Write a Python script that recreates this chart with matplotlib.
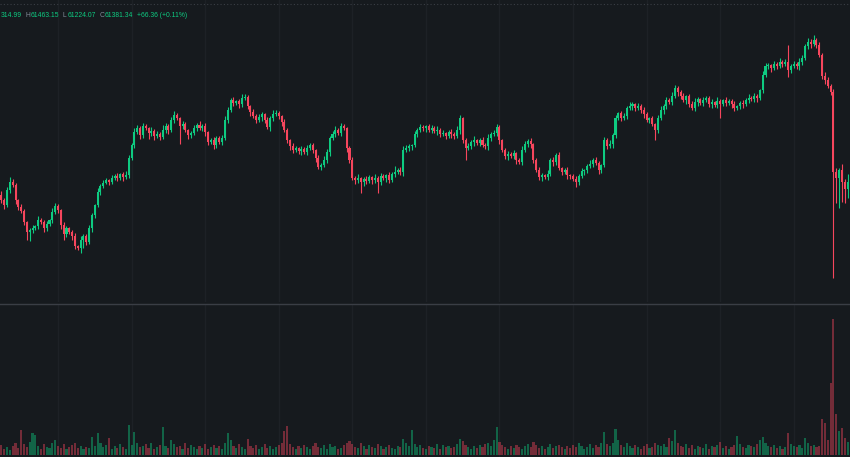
import matplotlib
matplotlib.use('Agg')
import matplotlib.pyplot as plt
from matplotlib.lines import Line2D

# ---------------- data ----------------
first_open = 61250
close = [
    61200, 61150, 61300, 61380, 61350, 61200, 61130, 61090, 60980, 60880,
    60900, 60920, 60940, 61000, 60980, 60920, 60960, 61000, 61080, 61140,
    61100, 60950, 60860, 60920, 60880, 60840, 60740, 60720, 60800, 60840,
    60780, 60920, 61050, 61150, 61280, 61340, 61370, 61400, 61380, 61420,
    61440, 61420, 61460, 61430, 61450, 61620, 61750, 61880, 61920, 61850,
    61940, 61920, 61870, 61890, 61840, 61860, 61830, 61900, 61940, 61900,
    62000, 62050, 62020, 61940, 61960, 61900, 61850, 61870, 61920, 61950,
    61920, 61940, 61880, 61780, 61800, 61750, 61820, 61780, 61820, 62000,
    62100, 62200, 62170, 62190, 62160, 62220, 62230, 62140, 62080, 62040,
    62000, 62030, 62060, 62000, 61930, 62020, 62060, 62070, 62040, 61980,
    61900, 61800, 61740, 61700, 61720, 61690, 61710, 61680, 61720, 61750,
    61700, 61620, 61530, 61550, 61600, 61680, 61820, 61860, 61900, 61870,
    61940, 61920, 61720, 61600, 61420, 61400, 61420, 61380, 61410, 61390,
    61430, 61400, 61420, 61380, 61440, 61420, 61450, 61400, 61460, 61480,
    61500, 61480, 61700, 61720, 61740, 61750, 61860, 61900, 61930, 61920,
    61940, 61900, 61920, 61890, 61900, 61860, 61870, 61840, 61880, 61860,
    61840, 61900, 62020, 61800, 61720, 61740, 61780, 61800, 61770, 61800,
    61750, 61740, 61820, 61860, 61870, 61930, 61800, 61700, 61640, 61660,
    61640, 61670, 61600, 61580, 61700, 61760, 61790, 61760, 61600, 61500,
    61430, 61450, 61430, 61460, 61600, 61580, 61650, 61520, 61480, 61500,
    61450, 61440, 61410, 61380, 61440, 61490, 61500, 61540, 61560, 61600,
    61570, 61500, 61550, 61800, 61740, 61760, 61850, 62020, 62070, 62020,
    62040, 62120, 62140, 62160, 62120, 62140, 62100, 62060, 62000, 62020,
    61960, 61900, 62020, 62100, 62140, 62200, 62180, 62240, 62320, 62280,
    62240, 62200, 62240, 62160, 62120, 62180, 62210, 62170, 62200, 62220,
    62160, 62180, 62150, 62190, 62160, 62200, 62170, 62190, 62160, 62120,
    62140, 62170, 62160, 62200, 62220, 62210, 62240, 62220, 62300, 62450,
    62540, 62550, 62520, 62560, 62540, 62580, 62560, 62580, 62500, 62540,
    62560, 62540, 62580, 62620, 62740, 62780, 62760, 62800, 62750, 62650,
    62440, 62400, 62340, 62280, 61480, 61420, 61500, 61380, 61314.99, 61381.34,
]
wick_up = [
    40, 20, 30, 50, 30, 20, 10, 30, 20, 10,
    20, 30, 10, 40, 20, 20, 30, 10, 40, 30,
    20, 10, 30, 20, 10, 20, 30, 10, 40, 20,
    20, 30, 20, 10, 40, 20, 30, 20, 10, 30,
    20, 30, 10, 20, 40, 30, 20, 40, 30, 20,
    30, 20, 10, 40, 20, 30, 20, 50, 30, 20,
    30, 40, 20, 10, 30, 20, 10, 20, 30, 20,
    40, 20, 30, 10, 20, 30, 20, 20, 30, 40,
    30, 20, 30, 10, 20, 40, 30, 20, 10, 30,
    20, 30, 20, 10, 30, 20, 40, 30, 20, 10,
    30, 20, 10, 30, 20, 10, 30, 20, 30, 20,
    20, 10, 30, 20, 40, 30, 20, 30, 40, 20,
    30, 20, 10, 20, 30, 20, 40, 10, 20, 30,
    20, 10, 40, 20, 30, 20, 10, 30, 20, 60,
    20, 30, 40, 30, 20, 10, 30, 20, 30, 20,
    10, 20, 30, 20, 40, 20, 30, 10, 20, 30,
    20, 40, 30, 10, 20, 30, 20, 40, 10, 20,
    30, 20, 40, 20, 30, 30, 20, 10, 20, 30,
    20, 30, 10, 20, 40, 30, 20, 30, 10, 20,
    30, 20, 10, 40, 20, 30, 20, 30, 10, 20,
    30, 10, 20, 30, 20, 30, 10, 20, 40, 20,
    30, 20, 10, 30, 20, 40, 20, 30, 10, 20,
    30, 20, 40, 20, 10, 30, 20, 30, 20, 10,
    20, 10, 30, 40, 20, 30, 20, 40, 30, 20,
    20, 30, 10, 20, 30, 40, 20, 10, 30, 20,
    20, 30, 10, 40, 20, 10, 30, 20, 20, 30,
    10, 20, 30, 20, 40, 20, 30, 20, 10, 40,
    30, 20, 10, 30, 20, 40, 20, 30, 170, 20,
    30, 20, 40, 30, 20, 40, 30, 50, 20, 30,
    20, 40, 30, 20, 30, 40, 20, 60, 30, 81.81,
]
wick_dn = [
    30, 40, 20, 30, 20, 40, 30, 20, 30, 80,
    90, 30, 20, 30, 20, 40, 30, 20, 30, 20,
    30, 40, 60, 30, 20, 40, 30, 20, 50, 80,
    30, 20, 40, 30, 20, 30, 20, 10, 30, 20,
    20, 30, 20, 40, 20, 30, 20, 30, 20, 40,
    30, 20, 60, 30, 40, 20, 30, 20, 30, 40,
    20, 30, 20, 180, 30, 20, 40, 30, 20, 30,
    20, 30, 40, 30, 20, 40, 30, 20, 30, 20,
    30, 20, 30, 20, 40, 30, 20, 30, 40, 20,
    30, 20, 40, 30, 20, 40, 30, 20, 30, 40,
    20, 30, 40, 30, 20, 30, 40, 20, 30, 20,
    30, 40, 20, 30, 20, 30, 40, 20, 30, 20,
    30, 20, 40, 30, 20, 40, 30, 110, 40, 30,
    20, 40, 30, 110, 30, 20, 40, 30, 20, 30,
    20, 30, 40, 20, 30, 40, 20, 30, 20, 30,
    40, 20, 30, 20, 40, 30, 20, 30, 20, 40,
    30, 20, 40, 30, 120, 20, 30, 40, 20, 30,
    20, 30, 40, 30, 20, 30, 40, 20, 30, 40,
    20, 30, 40, 20, 30, 20, 30, 40, 30, 20,
    30, 40, 20, 30, 20, 40, 30, 20, 30, 20,
    40, 30, 20, 50, 30, 20, 40, 30, 20, 30,
    20, 40, 30, 20, 30, 20, 40, 30, 20, 30,
    20, 30, 20, 40, 30, 20, 30, 40, 20, 30,
    20, 100, 30, 20, 40, 30, 20, 30, 20, 40,
    30, 20, 40, 30, 20, 30, 40, 20, 30, 20,
    30, 40, 20, 30, 140, 20, 30, 20, 40, 30,
    20, 30, 40, 20, 30, 20, 30, 40, 20, 30,
    20, 30, 40, 20, 30, 20, 30, 20, 70, 30,
    20, 30, 40, 30, 20, 30, 40, 20, 30, 20,
    30, 40, 20, 30, 1060, 250, 300, 200, 140, 90.92,
]
volume = [
    100, 60, 80, 50, 90, 120, 70, 250, 110, 80,
    130, 220, 200, 90, 60, 110, 80, 70, 120, 150,
    90, 70, 110, 60, 80, 100, 120, 70, 90, 60,
    80, 70, 180, 90, 220, 120, 80, 100, 170, 60,
    90, 70, 110, 80, 60, 300, 100, 230, 120, 80,
    90, 110, 70, 120, 60, 80, 100, 280, 90, 70,
    150, 110, 80, 90, 60, 120, 70, 100, 80, 60,
    90, 70, 110, 60, 80, 100, 70, 90, 60, 120,
    220, 150, 90, 70, 110, 80, 60, 160, 90, 70,
    100, 60, 80, 110, 70, 90, 60, 80, 100, 120,
    240, 290, 110, 80, 60, 90, 70, 100, 80, 60,
    90, 120, 80, 70, 100, 60, 110, 80, 90, 60,
    70, 100, 120, 140, 110, 80, 70, 120, 90, 60,
    100, 80, 70, 110, 90, 60, 80, 100, 70, 60,
    90, 80, 160, 120, 90, 250, 110, 80, 100, 70,
    60, 90, 80, 70, 110, 60, 100, 80, 90, 70,
    80, 110, 160, 140, 100, 80, 60, 90, 70, 100,
    80, 110, 120, 90, 150, 280, 130, 100, 80, 60,
    90, 70, 100, 80, 60, 90, 110, 80, 130, 100,
    70, 90, 60, 80, 110, 70, 90, 100, 80, 60,
    90, 70, 100, 80, 120, 90, 60, 80, 110, 70,
    100, 80, 120, 230, 110, 90, 120, 260, 150, 100,
    80, 120, 90, 70, 100, 80, 60, 90, 110, 70,
    80, 120, 100, 90, 110, 80, 170, 140, 250, 120,
    90, 80, 110, 70, 100, 60, 90, 80, 70, 110,
    60, 90, 80, 100, 130, 70, 90, 60, 80, 100,
    190, 110, 80, 70, 100, 90, 80, 110, 150, 180,
    120, 90, 80, 100, 70, 90, 60, 80, 220, 110,
    90, 80, 100, 70, 170, 120, 90, 100, 80, 90,
    360, 320, 150, 720, 1360, 410, 240, 270, 170, 130,
]
# header as visible in the reference (left part of the open value is cut off there)
hdr_first = '314.99'
hdr_labels = ['H', 'L', 'C']
hdr_values = ['61463.15', '61224.07', '61381.34']
hdr_change = '+66.36 (+0.11%)'

# ---------------- style ----------------
BG = '#161a1e'
UP = '#0ecb81'
DN = '#f6465d'
GRAY = '#848e9c'
GRID = '#1d2126'

W, H = 850, 457
fig = plt.figure(figsize=(W / 100, H / 100), dpi=100, facecolor=BG)

n = len(close)
xs = list(range(n))
opens = [first_open] + close[:-1]
highs = [max(o, c) + u for o, c, u in zip(opens, close, wick_up)]
lows = [min(o, c) - d for o, c, d in zip(opens, close, wick_dn)]
cols = [UP if c >= o else DN for o, c in zip(opens, close)]
bottoms = [min(o, c) for o, c in zip(opens, close)]
heights = [max(abs(c - o), 8) for o, c in zip(opens, close)]

step = 2.83
x0 = 1.4
xlim = (-x0 / step, (W - x0) / step)

# price pane
ax = fig.add_axes([0, 155 / H, 1, 302 / H])
ax.set_facecolor(BG)
for gx in range(20, n, 26):
    ax.axvline(gx, color=GRID, lw=1, zorder=0)
ax.vlines(xs, lows, highs, colors=cols, linewidth=0.8, zorder=2)
ax.bar(xs, heights, bottom=bottoms, width=0.72, color=cols, linewidth=0, zorder=3)
ax.set_xlim(*xlim)
ax.set_ylim(60180, 63200)
ax.axis('off')

# volume pane
vax = fig.add_axes([0, 0, 1, 153 / H])
vax.set_facecolor(BG)
for gx in range(20, n, 26):
    vax.axvline(gx, color=GRID, lw=1, zorder=0)
vcols = [(0.055, 0.796, 0.506, 0.42) if c == UP else (0.965, 0.275, 0.365, 0.42) for c in cols]
vax.bar(xs, volume, width=0.75, color=vcols, linewidth=0, zorder=2)
vax.set_xlim(*xlim)
vax.set_ylim(-20, 1510)
vax.axis('off')

# separators
fig.add_artist(Line2D([0, 1], [1 - 303.5 / H, 1 - 303.5 / H], transform=fig.transFigure,
                      color='#3a3e45', lw=1))
fig.add_artist(Line2D([0, 1], [1 - 4 / H, 1 - 4 / H], transform=fig.transFigure,
                      color='#3a3e45', lw=0.8, ls=(0, (1, 2))))

# header
FONT = dict(family='Liberation Sans', fontsize=4.9)
prev = fig.text(1 / W, 1 - 15.5 / H, hdr_first, color=UP, va='center', **FONT)
items = []
for lab, val in zip(hdr_labels, hdr_values):
    items.append((lab, GRAY, 3.5))
    items.append((val, UP, 0.6))
items.append((hdr_change, UP, 3.5))
for txt, c, gap in items:
    prev = plt.annotate(txt, xy=(1, 0), xycoords=prev, xytext=(gap, 0),
                        textcoords='offset pixels', color=c, va='bottom', ha='left',
                        annotation_clip=False, **FONT)

fig.savefig('out.png', dpi=100, facecolor=BG)
